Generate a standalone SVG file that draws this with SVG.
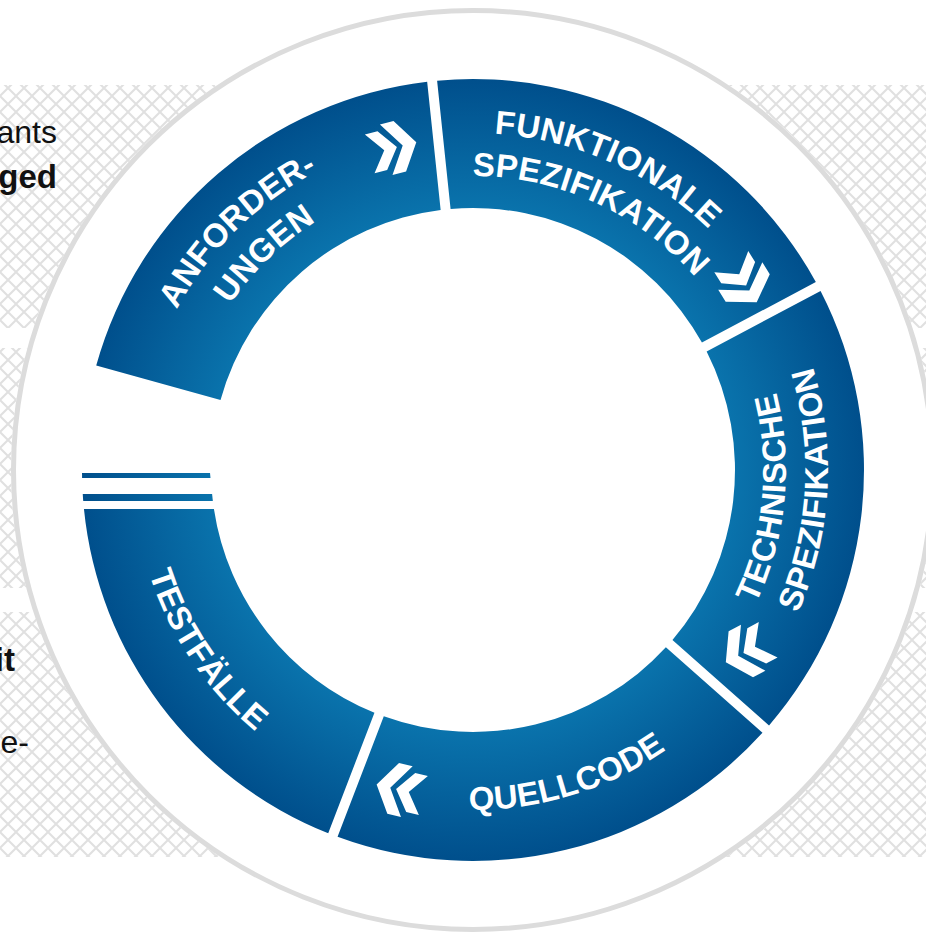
<svg xmlns="http://www.w3.org/2000/svg" xmlns:xlink="http://www.w3.org/1999/xlink" width="926" height="934" viewBox="0 0 926 934">
<style>
  .seg { fill: url(#ringGrad); }
  .lbl { font-family: "Liberation Sans", Arial, sans-serif; font-weight: bold; font-size: 33px; fill: #ffffff; letter-spacing: 0.3px; }
  .side { font-family: "Liberation Sans", Arial, sans-serif; font-size: 32px; fill: #111111; }
  .sideb { font-family: "Liberation Sans", Arial, sans-serif; font-size: 33px; font-weight: bold; fill: #111111; }
  .card { fill: url(#hatch); }
  .chev { fill: #ffffff; }
</style>
<defs>
  <pattern id="hatch" patternUnits="userSpaceOnUse" width="16" height="16">
    <rect width="16" height="16" fill="#ffffff"/>
    <path d="M0,0 L16,16 M0,16 L16,0" stroke="#e0e0e0" stroke-width="2" fill="none"/>
  </pattern>
  <radialGradient id="ringGrad" gradientUnits="userSpaceOnUse" cx="473" cy="470" r="391">
    <stop offset="0.66" stop-color="#0a74ad"/>
    <stop offset="1" stop-color="#004f8c"/>
  </radialGradient>
  <path id="top337" d="M-331.88,-58.52 A337,337 0 0 1 331.88,-58.52"/>
  <path id="top294" d="M-289.53,-51.05 A294,294 0 0 1 289.53,-51.05"/>
  <path id="bot340" d="M-334.83,59.04 A340,340 0 0 0 334.83,59.04"/>
  <path id="bot313" d="M-308.24,54.35 A313,313 0 0 0 308.24,54.35"/>
  <path id="bot355" d="M-349.6,61.65 A355,355 0 0 0 349.6,61.65"/>
  <g id="chev" class="chev">
    <polygon points="-24,-20 -11,-20 4,0 -11,20 -24,20 -9,0"/>
    <polygon points="-7,-26 7,-26 24,0 7,26 -7,26 10,0"/>
  </g>
</defs>

<rect width="926" height="934" fill="#ffffff"/>

<g id="background-cards">
  <rect class="card" x="-20" y="85" width="500" height="243" rx="6"/>
  <rect class="card" x="-20" y="348" width="500" height="240" rx="6"/>
  <rect class="card" x="-20" y="612" width="500" height="245" rx="6"/>
  <rect class="card" x="460" y="85" width="486" height="243" rx="6"/>
  <rect class="card" x="460" y="348" width="486" height="240" rx="6"/>
  <rect class="card" x="460" y="612" width="486" height="245" rx="6"/>
  <text class="side" x="57" y="143" text-anchor="end">ants</text>
  <text class="sideb" x="57" y="188" text-anchor="end">ged</text>
  <text class="sideb" x="15" y="671" text-anchor="end">it</text>
  <text class="side" x="29" y="753" text-anchor="end">e-</text>
</g>

<g id="outer-circle">
  <circle cx="473" cy="470" r="462" fill="#ffffff"/>
  <circle cx="473" cy="470" r="459.5" fill="none" stroke="#dcdcdc" stroke-width="5"/>
</g>

<g id="anforderungen">
  <path class="seg" d="M96.22,365.51 A391,391 0 0 1 427.16,81.70 L440.65,210.00 A262,262 0 0 0 220.53,399.98 Z"/>
  <g transform="translate(473,470) rotate(-44.5)">
    <text class="lbl" text-anchor="middle"><textPath xlink:href="#top337" href="#top337" startOffset="50%">ANFORDER-</textPath></text>
  </g>
  <g transform="translate(473,470) rotate(-44)">
    <text class="lbl" text-anchor="middle"><textPath xlink:href="#top294" href="#top294" startOffset="50%">UNGEN</textPath></text>
  </g>
  <use xlink:href="#chev" href="#chev" transform="translate(393,148) rotate(-14)"/>
</g>

<g id="funktionale-spezifikation">
  <path class="seg" d="M437.11,80.65 A391,391 0 0 1 815.84,282.02 L701.93,342.60 A262,262 0 0 0 450.59,208.96 Z"/>
  <g transform="translate(473,470) rotate(24)">
    <text class="lbl" text-anchor="middle"><textPath xlink:href="#top337" href="#top337" startOffset="50%">FUNKTIONALE</textPath></text>
  </g>
  <g transform="translate(473,470) rotate(24.5)">
    <text class="lbl" text-anchor="middle"><textPath xlink:href="#top294" href="#top294" startOffset="50%">SPEZIFIKATION</textPath></text>
  </g>
  <use xlink:href="#chev" href="#chev" transform="translate(744,282) rotate(58)"/>
</g>

<g id="technische-spezifikation">
  <path class="seg" d="M820.56,290.89 A391,391 0 0 1 769.04,725.42 L672.45,639.90 A262,262 0 0 0 706.64,351.45 Z"/>
  <g transform="translate(473,470) rotate(-84.5)">
    <text class="lbl" text-anchor="middle"><textPath xlink:href="#bot313" href="#bot313" startOffset="50%">TECHNISCHE</textPath></text>
  </g>
  <g transform="translate(473,470) rotate(-86.6)">
    <text class="lbl" text-anchor="middle"><textPath xlink:href="#bot355" href="#bot355" startOffset="50%">SPEZIFIKATION</textPath></text>
  </g>
  <use xlink:href="#chev" href="#chev" transform="translate(747,651) rotate(152)"/>
</g>

<g id="quellcode">
  <path class="seg" d="M762.48,732.83 A391,391 0 0 1 337.56,836.79 L383.79,716.34 A262,262 0 0 0 665.87,647.33 Z"/>
  <g transform="translate(473,470) rotate(-17)">
    <text class="lbl" text-anchor="middle"><textPath xlink:href="#bot340" href="#bot340" startOffset="50%">QUELLCODE</textPath></text>
  </g>
  <use xlink:href="#chev" href="#chev" transform="translate(400,790) rotate(193)"/>
</g>

<g id="testfaelle">
  <path class="seg" d="M328.21,833.20 A391,391 0 0 1 83.95,509 L213.92,509 A262,262 0 0 0 374.46,712.76 Z"/>
  <g transform="translate(473,470) rotate(56)">
    <text class="lbl" text-anchor="middle"><textPath xlink:href="#bot340" href="#bot340" startOffset="50%">TESTFÄLLE</textPath></text>
  </g>
  <polygon class="seg" points="82.74,494 212.1,494 212.84,501 83.23,501"/>
  <polygon class="seg" points="82.01,473 210,473 210.5,478 82.08,478"/>
</g>
</svg>
